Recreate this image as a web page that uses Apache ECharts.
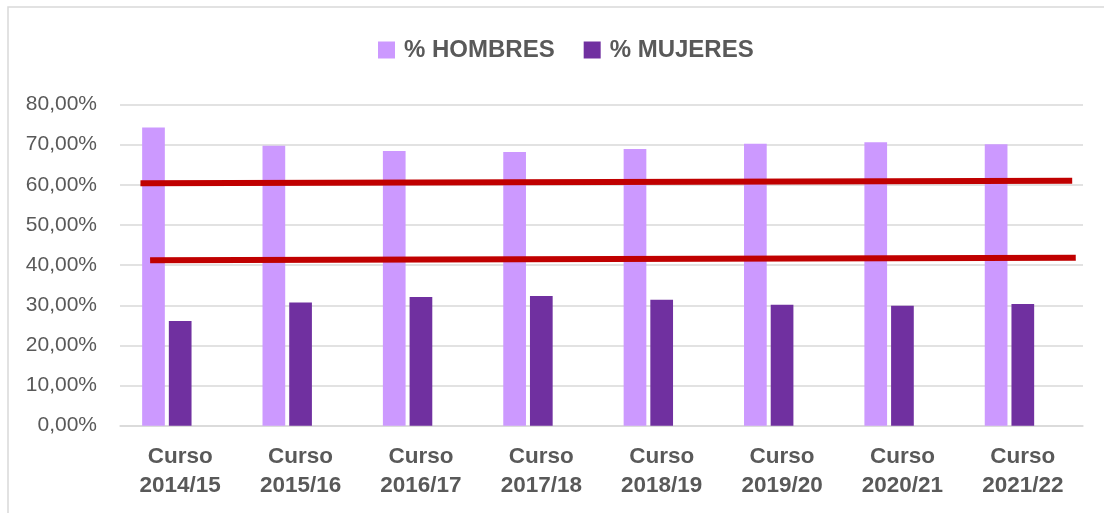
<!doctype html>
<html>
<head>
	<meta charset="utf-8">
	<style>
		html, body { margin: 0; padding: 0; background: #fff; }
		#chart { width: 1104px; height: 513px; }
	</style>
</head>
<body>
	<div id="chart"></div>
	<script src="https://cdn.jsdelivr.net/npm/echarts@6/dist/echarts.min.js"></script>
	<script type="text/javascript">
		// datos
		var cursos = ['Curso\n2014/15', 'Curso\n2015/16', 'Curso\n2016/17', 'Curso\n2017/18',
			'Curso\n2018/19', 'Curso\n2019/20', 'Curso\n2020/21', 'Curso\n2021/22'];
		var hombres = [74.3, 69.7, 68.4, 68.2, 68.9, 70.2, 70.6, 70.1];
		var mujeres = [26.1, 30.7, 32.05, 32.3, 31.4, 30.1, 29.9, 30.3];
		var vacio = ['-', '-', '-', '-', '-', '-', '-', '-'];
		// lineas rojas (x en posiciones de categoria 0..8, y en %)
		var lineaAlta = [[0.17, 60.4], [7.91, 61.0]];
		var lineaBaja = [[0.25, 41.2], [7.94, 41.8]];
		var yTicks = [0, 10, 20, 30, 40, 50, 60, 70, 80];

		var fuente = '"Liberation Sans", Arial, sans-serif';
		var gris = '#595959';

		var myChart = echarts.init(document.getElementById('chart'));
		option = {
			animation: false,
			graphic: [{
				type: 'rect',
				shape: { x: 8, y: 7, width: 1100, height: 520 },
				style: { fill: 'none', stroke: '#d9d9d9', lineWidth: 1.5 },
				silent: true
			}],
			legend: {
				data: ['% HOMBRES', '% MUJERES'],
				left: 378,
				top: 38,
				padding: 0,
				itemWidth: 17,
				itemHeight: 17,
				itemGap: 29,
				icon: 'rect',
				textStyle: {
					color: gris,
					fontSize: 24,
					fontWeight: 'bold',
					fontFamily: fuente,
					lineHeight: 17,
					padding: [0, 0, 0, 4]
				}
			},
			grid: {
				left: 120,
				right: 21,
				top: 104.5,
				bottom: 87.3
			},
			xAxis: [{
				type: 'category',
				data: cursos,
				axisTick: { show: false },
				axisLine: { lineStyle: { color: '#d9d9d9', width: 1.5 } },
				axisLabel: {
					color: gris,
					fontSize: 22.5,
					fontWeight: 'bold',
					fontFamily: fuente,
					lineHeight: 29,
					margin: 17,
					interval: 0
				}
			}, {
				type: 'value',
				min: 0,
				max: 8,
				show: false
			}],
			yAxis: [{
				type: 'value',
				min: yTicks[0],
				max: yTicks[yTicks.length - 1],
				interval: 10,
				axisLine: { show: false },
				axisTick: { show: false },
				splitLine: { lineStyle: { color: '#d9d9d9', width: 1.5 } },
				axisLabel: {
					color: gris,
					fontSize: 21,
					fontFamily: fuente,
					margin: 23,
					formatter: function(value) {
						return value.toFixed(2).replace('.', ',') + '%';
					}
				}
			}],
			series: [
				{
					name: '% HOMBRES',
					type: 'bar',
					data: hombres,
					barWidth: 22.7,
					barGap: '17.6%',
					itemStyle: { color: '#CC99FF' }
				}, {
					name: '% MUJERES',
					type: 'bar',
					data: mujeres,
					barWidth: 22.7,
					barGap: '17.6%',
					itemStyle: { color: '#7030A0' }
				}, {
					name: 'vacio',
					type: 'bar',
					data: vacio,
					barWidth: 22.7,
					barGap: '17.6%'
				}, {
					name: 'linea1',
					type: 'line',
					xAxisIndex: 1,
					data: lineaAlta,
					symbol: 'none',
					z: 5,
					lineStyle: { color: '#C00000', width: 6 }
				}, {
					name: 'linea2',
					type: 'line',
					xAxisIndex: 1,
					data: lineaBaja,
					symbol: 'none',
					z: 5,
					lineStyle: { color: '#C00000', width: 6 }
				}
			]
		};
		myChart.setOption(option);
	</script>
</body>
</html>
